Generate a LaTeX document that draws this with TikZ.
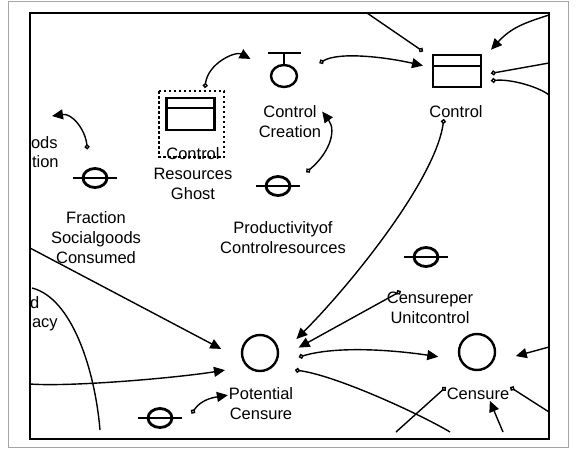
\documentclass[tikz,border=0pt]{standalone}
\usepackage{fontspec}
\setmainfont{Liberation Sans}
\usepackage{tikz}
\usetikzlibrary{arrows.meta, shapes.geometric}

\begin{document}
\begin{tikzpicture}[x=1pt, y=-1pt,
    stock/.style={draw, line width=2.8pt, minimum width=48pt, minimum height=32pt, inner sep=0pt, outer sep=10pt},
    conv/.style={draw, circle, line width=2.4pt, minimum size=36pt, inner sep=0pt, outer sep=21pt},
    aux/.style={draw, ellipse, line width=2.8pt, minimum width=24pt, minimum height=19pt, inner sep=0pt, outer sep=20pt},
    lbl/.style={font=\fontsize{16.5}{20}\selectfont, align=center, inner sep=0pt, outer sep=1pt},
    conn/.style={line width=1.4pt, {Circle[open, length=5pt, width=5pt]}-{Triangle[length=11pt, width=10pt]}},
    orig/.style={line width=1.4pt, {Circle[open, length=5pt, width=5pt]}-},
    inc/.style={line width=1.4pt, -{Triangle[length=11pt, width=10pt]}}]
    \useasboundingbox (0,0) rectangle (578,450);
    \draw[gray!70] (8,1) rectangle (568,447);
    \draw[line width=2.2pt] (30,13) rectangle (549,439);

    \coordinate (top1) at (367,13);
    \coordinate (tr) at (549,15);
    \coordinate (r1) at (549,63);
    \coordinate (r2) at (549,95);
    \coordinate (r3) at (549,347);
    \coordinate (r4) at (549,412);
    \coordinate (l1) at (30,248);
    \coordinate (l2) at (30,384);
    \coordinate (l3) at (32,288);
    \coordinate (b1) at (100,430);
    \coordinate (b2) at (450,432);
    \coordinate (b3) at (396,432);
    \coordinate (b4) at (503,432);
    \coordinate (sc) at (52,116);

    \node[stock] (ghost) at (190.5,114) {};
    \draw[line width=2.8pt] (ghost.center) ++(-23.5,-6) -- ++(47,0);
    \draw[line width=1.5pt, dash pattern=on 2.5pt off 2.5pt] (159,91) rectangle (224,157);
    \node[lbl] (ghostlbl) at (193,174) {Control\\Resources\\Ghost};

    \node[draw, ellipse, line width=2.4pt, minimum width=26pt, minimum height=22pt, inner sep=0pt, outer sep=25pt] (ccre) at (284,76) {};
    \draw[line width=2.4pt] (ccre.center) ++(0,-11) -- ++(0,-12) ++(-16,0) -- ++(33,0);
    \node[lbl] (ccrelbl) at (290,122) {Control\\Creation};

    \node[stock] (ctl) at (457,71) {};
    \draw[line width=2.8pt] (ctl.center) ++(-24,-5) -- ++(48,0);
    \node[lbl] (ctllbl) at (456,112) {Control};

    \foreach \n/\x/\y in {frac/95/178, prod/278/186, cpu/426/257, pcin/160/418} {
        \node[aux] (\n) at (\x,\y) {};
        \draw[line width=2.8pt] (\n.center) ++(-22,0) -- ++(44,0);
    }
    \node[lbl] (fraclbl) at (96,238) {Fraction\\Socialgoods\\Consumed};
    \node[lbl] (prodlbl) at (283,238) {Productivityof\\Controlresources};
    \node[lbl] (cpulbl) at (430,308) {Censureper\\Unitcontrol};

    \node[conv] (pc) at (260,353) {};
    \node[lbl] (pclbl) at (261,404) {Potential\\Censure};
    \node[conv] (cen) at (477,352) {};
    \node[lbl] (cenlbl) at (478,394) {Censure};

    \node[lbl, anchor=west] (p1) at (30,143) {ods};
    \node[lbl, anchor=west] (p2) at (31,162) {tion};
    \node[lbl, anchor=west] (p3) at (29,303) {d};
    \node[lbl, anchor=west] (p4) at (31,325) {acy};

    \draw[conn] (ghost.61) .. controls +(3,-25) and +(-15,-8) .. (ccre.153);
    \draw[conn] (ccre.20) .. controls +(20,-12) and +(-35,-8) .. (ctl.171);
    \draw[conn] (prod.26) .. controls +(22,-18) and +(15,20) .. (ccrelbl.18);
    \draw[orig] (ctl.150) -- (top1);
    \draw[inc] (tr) .. controls +(-25,8) and +(20,-22) .. (ctl.32);
    \draw[orig] (ctl.-4) -- (r1);
    \draw[orig] (ctl.-16) .. controls +(20,-2) and +(-10,-8) .. (r2);
    \draw[conn] (ctllbl.210) .. controls +(-8,60) and +(55,-55) .. (pc.21);
    \draw[conn] (cpulbl.150) -- (pc.8);
    \draw[inc] (l1) -- (pc.174);
    \draw[inc] (l2) .. controls +(40,3) and +(-50,8) .. (pc.206);
    \draw[line width=1.4pt] (l3) .. controls +(40,10) and +(-5,-60) .. (b1);
    \draw[conn] (pcin.8) .. controls +(10,-15) and +(-12,2) .. (pclbl.165);
    \draw[conn] (pc.-6) .. controls +(40,-12) and +(-40,-6) .. (cen.187);
    \draw[orig] (pc.-26) .. controls +(40,5) and +(-30,-18) .. (b2);
    \draw[inc] (r3) -- (cen.-6);
    \draw[orig] (cenlbl.north east) -- (r4);
    \draw[orig] (cenlbl.north west) -- (b3);
    \draw[inc] (b4) -- (cenlbl.-30);
    \draw[conn] (frac.105) .. controls +(-2,-20) and +(20,-3) .. (sc);
\end{tikzpicture}
\end{document}
